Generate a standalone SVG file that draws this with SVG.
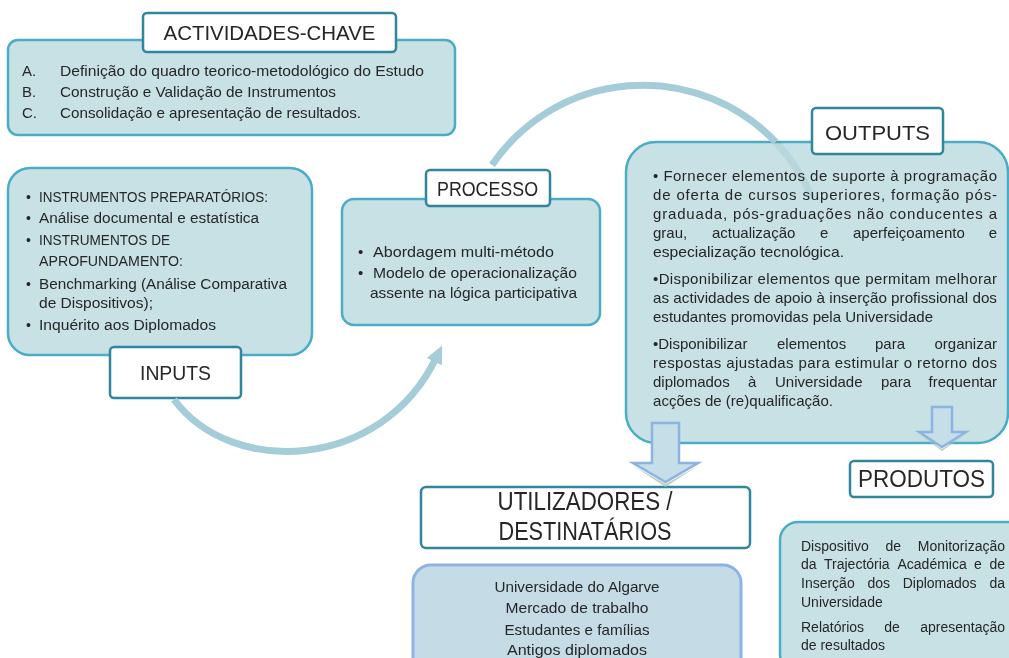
<svg xmlns="http://www.w3.org/2000/svg" width="1009" height="658" viewBox="0 0 1009 658">
<defs>
<style>
text{font-family:"Liberation Sans",Arial,sans-serif;fill:#262626}
.box{fill:#c8e1e5;stroke:#4bacc6;stroke-width:2.5}
.box2{fill:#c5dce6;stroke:#8db3e2;stroke-width:3}
.tbox{fill:#fff;stroke:#31859c;stroke-width:2.5}
.title{font-size:21px;text-anchor:middle}
.t15{font-size:15px}
.t14{font-size:14px}
.o{font-size:15px}
.mid{text-anchor:middle}
.end{text-anchor:end}
.arc{fill:none;stroke:#a5cdd9;stroke-width:7}
.faint{stroke:#eaf4f6;mix-blend-mode:multiply}
.barrow{fill:#c6dee8;stroke:#8db3e2;stroke-width:2.5;stroke-linejoin:miter}
.bshadow{fill:#a8c9b0;opacity:.8}
</style>
<marker id="ah" markerUnits="userSpaceOnUse" markerWidth="24" markerHeight="24" refX="4" refY="10" orient="auto"><path d="M0,1.5 L18,10 L0,18.5 z" fill="#a5cdd9"/></marker>
</defs>
<rect width="1009" height="658" fill="#fff"/>

<g id="actividades">
<rect class="box" x="8" y="40" width="447" height="95" rx="10"/>
<rect class="tbox" x="143" y="13" width="253" height="39" rx="4"/>
<text class="title" x="269.5" y="40" textLength="212" lengthAdjust="spacingAndGlyphs">ACTIVIDADES-CHAVE</text>
<text class="t15" x="22" y="76">A.</text>
<text class="t15" x="60" y="76" textLength="364" lengthAdjust="spacingAndGlyphs">Definição do quadro teorico-metodológico do Estudo</text>
<text class="t15" x="22" y="97">B.</text>
<text class="t15" x="60" y="97" textLength="276" lengthAdjust="spacingAndGlyphs">Construção e Validação de Instrumentos</text>
<text class="t15" x="22" y="118">C.</text>
<text class="t15" x="60" y="118" textLength="301" lengthAdjust="spacingAndGlyphs">Consolidação e apresentação de resultados.</text>
</g>

<g id="inputs">
<rect class="box" x="8" y="168" width="304" height="187" rx="22"/>
<text class="t14" x="26" y="202">•</text>
<text class="t14" x="39" y="202" textLength="229" lengthAdjust="spacingAndGlyphs">INSTRUMENTOS PREPARATÓRIOS:</text>
<text class="t14" x="26" y="223">•</text>
<text class="t14" x="39" y="223" textLength="220" lengthAdjust="spacingAndGlyphs">Análise documental e estatística</text>
<text class="t14" x="26" y="245">•</text>
<text class="t14" x="39" y="245" textLength="131" lengthAdjust="spacingAndGlyphs">INSTRUMENTOS DE</text>
<text class="t14" x="39" y="266" textLength="144" lengthAdjust="spacingAndGlyphs">APROFUNDAMENTO:</text>
<text class="t14" x="26" y="289">•</text>
<text class="t14" x="39" y="289" textLength="248" lengthAdjust="spacingAndGlyphs">Benchmarking (Análise Comparativa</text>
<text class="t14" x="39" y="308" textLength="114" lengthAdjust="spacingAndGlyphs">de Dispositivos);</text>
<text class="t14" x="26" y="330">•</text>
<text class="t14" x="39" y="330" textLength="177" lengthAdjust="spacingAndGlyphs">Inquérito aos Diplomados</text>
<rect class="tbox" x="110" y="347" width="131" height="51" rx="4"/>
<text class="title" x="175.5" y="380" textLength="71" lengthAdjust="spacingAndGlyphs">INPUTS</text>
</g>

<g id="processo">
<rect class="box" x="342" y="199" width="258" height="126" rx="12"/>
<rect class="tbox" x="426" y="170" width="124" height="36" rx="4"/>
<text class="title" x="487.5" y="196" textLength="101" lengthAdjust="spacingAndGlyphs">PROCESSO</text>
<text class="t15" x="358" y="257">•</text>
<text class="t15" x="373" y="257" textLength="181" lengthAdjust="spacingAndGlyphs">Abordagem multi-método</text>
<text class="t15" x="358" y="278">•</text>
<text class="t15" x="373" y="278" textLength="204" lengthAdjust="spacingAndGlyphs">Modelo de operacionalização</text>
<text class="t15" x="370" y="298" textLength="207" lengthAdjust="spacingAndGlyphs">assente na lógica participativa</text>
</g>

<g id="outputs">
<rect class="box" x="626" y="142" width="382" height="301" rx="30"/>
<rect class="tbox" x="812" y="108" width="131" height="46" rx="4"/>
<text class="title" x="877.5" y="140" textLength="105" lengthAdjust="spacingAndGlyphs">OUTPUTS</text>
<text class="o" x="653" y="181" textLength="344" lengthAdjust="spacing">• Fornecer elementos de suporte à programação</text>
<text class="o" x="653" y="200" textLength="344" lengthAdjust="spacing">de oferta de cursos superiores, formação pós-</text>
<text class="o" x="653" y="219" textLength="344" lengthAdjust="spacing">graduada, pós-graduações não conducentes a</text>
<text class="o" x="653" y="238">grau,</text>
<text class="o" x="712" y="238">actualização</text>
<text class="o" x="820" y="238">e</text>
<text class="o" x="853" y="238">aperfeiçoamento</text>
<text class="o end" x="997" y="238">e</text>
<text class="o" x="653" y="257" textLength="191" lengthAdjust="spacingAndGlyphs">especialização tecnológica.</text>
<text class="o" x="653" y="284" textLength="344" lengthAdjust="spacing">•Disponibilizar elementos que permitam melhorar</text>
<text class="o" x="653" y="303" textLength="344" lengthAdjust="spacingAndGlyphs">as actividades de apoio à inserção profissional dos</text>
<text class="o" x="653" y="322" textLength="280" lengthAdjust="spacingAndGlyphs">estudantes promovidas pela Universidade</text>
<text class="o" x="653" y="349">•Disponibilizar</text>
<text class="o" x="777" y="349">elementos</text>
<text class="o" x="875" y="349">para</text>
<text class="o end" x="997" y="349">organizar</text>
<text class="o" x="653" y="368" textLength="344" lengthAdjust="spacing">respostas ajustadas para estimular o retorno dos</text>
<text class="o" x="653" y="387">diplomados</text>
<text class="o" x="748" y="387">à</text>
<text class="o" x="775" y="387">Universidade</text>
<text class="o" x="881" y="387">para</text>
<text class="o end" x="997" y="387">frequentar</text>
<text class="o" x="653" y="406" textLength="180" lengthAdjust="spacingAndGlyphs">acções de (re)qualificação.</text>
</g>

<g id="utilizadores">
<rect class="tbox" x="421" y="487" width="329" height="61" rx="5"/>
<text class="mid" x="585" y="510" font-size="25" textLength="175" lengthAdjust="spacingAndGlyphs">UTILIZADORES /</text>
<text class="mid" x="585" y="540" font-size="25" textLength="173" lengthAdjust="spacingAndGlyphs">DESTINATÁRIOS</text>
</g>

<g id="destinatarios-lista">
<rect class="box2" x="413" y="565" width="328" height="110" rx="18"/>
<text class="t15 mid" x="577" y="592" textLength="165" lengthAdjust="spacingAndGlyphs">Universidade do Algarve</text>
<text class="t15 mid" x="577" y="613" textLength="143" lengthAdjust="spacingAndGlyphs">Mercado de trabalho</text>
<text class="t15 mid" x="577" y="635" textLength="145" lengthAdjust="spacingAndGlyphs">Estudantes e famílias</text>
<text class="t15 mid" x="577" y="655" textLength="140" lengthAdjust="spacingAndGlyphs">Antigos diplomados</text>
</g>

<g id="produtos">
<rect class="tbox" x="850" y="461" width="143" height="36" rx="4"/>
<text class="mid" x="921.5" y="487" font-size="23" textLength="127" lengthAdjust="spacingAndGlyphs">PRODUTOS</text>
</g>

<g id="produtos-lista">
<rect class="box" x="780" y="522" width="245" height="150" rx="18"/>
<text class="t14" x="801" y="551">Dispositivo</text>
<text class="t14" x="885.5" y="551">de</text>
<text class="t14 end" x="1005" y="551">Monitorização</text>
<text class="t14" x="801" y="569">da</text>
<text class="t14" x="824" y="569">Trajectória</text>
<text class="t14" x="897.5" y="569">Académica</text>
<text class="t14" x="974" y="569">e</text>
<text class="t14 end" x="1005" y="569">de</text>
<text class="t14" x="801" y="588">Inserção</text>
<text class="t14" x="867.4" y="588">dos</text>
<text class="t14" x="902.7" y="588">Diplomados</text>
<text class="t14 end" x="1005" y="588">da</text>
<text class="t14" x="801" y="607">Universidade</text>
<text class="t14" x="801" y="632">Relatórios</text>
<text class="t14" x="884.3" y="632">de</text>
<text class="t14 end" x="1005" y="632">apresentação</text>
<text class="t14" x="801" y="650">de resultados</text>
</g>

<g id="connectors">
<path class="arc" d="M174,399.5 C232,478 382,470 436,358" marker-end="url(#ah)"/>
<path class="arc" d="M492,165 A183,183 0 0 1 775.7,142"/>
<path class="arc faint" d="M775.7,142 A183,183 0 0 1 812,198"/>
<polygon class="bshadow" points="632,465 665.5,484 699,465 665.5,487"/>
<polygon class="barrow" points="652,423 679,423 679,463 698,463 665.5,482 633,463 652,463"/>
<polygon class="bshadow" points="919,434 942,449 966,434 942,451"/>
<polygon class="barrow" points="932,407 952,407 952,432 966,432 942,447 919,432 932,432"/>
</g>
</svg>
